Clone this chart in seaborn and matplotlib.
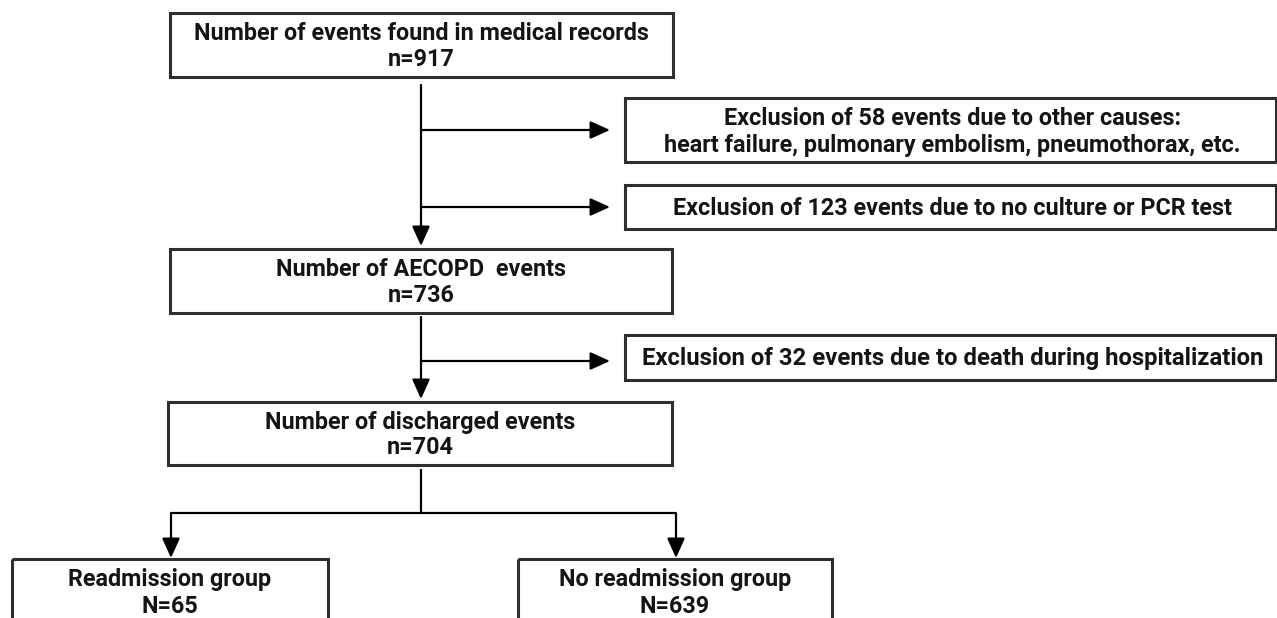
import matplotlib
matplotlib.use("Agg")
import matplotlib.pyplot as plt
from matplotlib.patches import Rectangle
import seaborn as sns

# flow data
main_titles = ["Number of events found in medical records",
               "Number of AECOPD  events",
               "Number of discharged events"]
main_counts = [917, 736, 704]
excluded_counts = [58, 123, 32]
exclusion_reasons = ["other causes:", "no culture or PCR test", "death during hospitalization"]
exclusion_details = ["heart failure, pulmonary embolism, pneumothorax, etc.", None, None]
group_names = ["Readmission group", "No readmission group"]
group_counts = [65, 639]

# layout (pixel coords, y downward)
main_boxes = [(170, 13, 673, 77), (170, 249, 672, 313), (168, 402, 672, 465)]
excl_boxes = [(625, 98, 1276, 162), (625, 185, 1276, 229), (625, 335, 1276, 380)]
excl_sizes = [16.8, 16.8, 17.2]
group_boxes = [(12, 559, 328, 640), (518, 559, 832, 640)]
trunk_x = 421

sns.set_style("white")
FONT = ["Roboto", "DejaVu Sans"]
FS = 16.8
TXT = "#141414"
EDGE = "#2e2e2e"

fig = plt.figure(figsize=(12.77, 6.18), dpi=100)
ax = fig.add_axes([0, 0, 1, 1])
ax.set_xlim(0, 1277)
ax.set_ylim(618, 0)
ax.axis("off")


def box(b):
    x0, y0, x1, y1 = b
    ax.add_patch(Rectangle((x0, y0), x1 - x0, y1 - y0, fill=False,
                           edgecolor=EDGE, linewidth=2.2, clip_on=False))


def label(x, y, s, size=FS):
    # y is the visual middle of the capitals
    ax.text(x, y + 8, s, ha="center", va="baseline", fontsize=size,
            fontweight="bold", family=FONT, color=TXT)


def arrow(x0, y0, x1, y1):
    ax.annotate("", xy=(x1, y1), xytext=(x0, y0),
                arrowprops=dict(arrowstyle="-|>,head_length=1.0,head_width=0.45",
                                color="black", lw=1.6, shrinkA=0, shrinkB=0,
                                mutation_scale=12))


def line(xs, ys):
    ax.plot(xs, ys, color="black", lw=1.6, solid_capstyle="butt")


# main boxes
for b, title, n in zip(main_boxes, main_titles, main_counts):
    box(b)
    cx = (b[0] + b[2]) / 2
    cy = (b[1] + b[3]) / 2
    label(cx, cy - 13, title)
    label(cx, cy + 13, f"n={n}")

# exclusion boxes
for b, n, reason, det, fs in zip(excl_boxes, excluded_counts, exclusion_reasons,
                                 exclusion_details, excl_sizes):
    box(b)
    cx = (b[0] + b[2]) / 2
    cy = (b[1] + b[3]) / 2
    head = f"Exclusion of {n} events due to {reason}"
    if det:
        label(cx + 2, cy - 13, head, fs)
        label(cx + 2, cy + 14, det, fs)
    else:
        label(cx + 2, cy, head, fs)

# trunk between box 1 and box 2
arrow(trunk_x, 85, trunk_x, 246)
for yb in (130, 207):
    arrow(trunk_x, yb, 610, yb)

# box 2 to box 3
arrow(trunk_x, 317, trunk_x, 399)
arrow(trunk_x, 361, 610, 361)

# split into groups
split_y = 513
line([trunk_x, trunk_x], [469, split_y])
gx = [(b[0] + b[2]) / 2 + 1 for b in group_boxes]
line([gx[0], gx[1]], [split_y, split_y])
for x in gx:
    arrow(x, split_y, x, 558)

for b, name, n in zip(group_boxes, group_names, group_counts):
    box(b)
    cx = (b[0] + b[2]) / 2
    label(cx, 578, name)
    label(cx, 605, f"N={n}")

fig.savefig("out.png", dpi=100)
